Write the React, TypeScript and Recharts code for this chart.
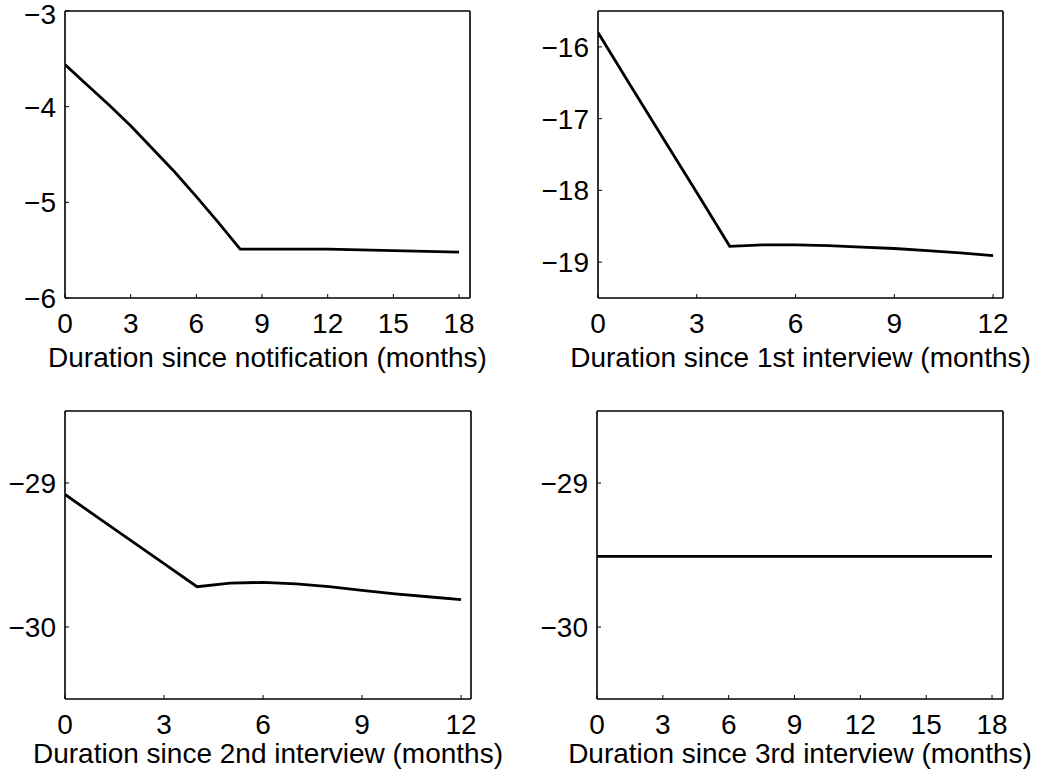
import { LineChart, Line, XAxis, YAxis } from "recharts";

// months since each event
const notifMonths = [0, 1, 2, 3, 4, 5, 6, 7, 8, 9, 10, 11, 12, 13, 14, 15, 16, 17, 18];
const notifEffect = [-3.56, -3.77, -3.98, -4.2, -4.44, -4.68, -4.94, -5.21, -5.49, -5.49, -5.49, -5.49, -5.49, -5.495, -5.5, -5.505, -5.51, -5.515, -5.52];

const firstMonths = [0, 1, 2, 3, 4, 5, 6, 7, 8, 9, 10, 11, 12];
const firstEffect = [-15.8, -16.55, -17.29, -18.03, -18.78, -18.76, -18.76, -18.77, -18.79, -18.81, -18.84, -18.87, -18.91];

const secondMonths = [0, 1, 2, 3, 4, 5, 6, 7, 8, 9, 10, 11, 12];
const secondEffect = [-29.08, -29.24, -29.4, -29.56, -29.72, -29.695, -29.69, -29.7, -29.72, -29.745, -29.77, -29.79, -29.81];

const thirdMonths = [0, 1, 2, 3, 4, 5, 6, 7, 8, 9, 10, 11, 12, 13, 14, 15, 16, 17, 18];
const thirdEffect = [-29.51, -29.51, -29.51, -29.51, -29.51, -29.51, -29.51, -29.51, -29.51, -29.51, -29.51, -29.51, -29.51, -29.51, -29.51, -29.51, -29.51, -29.51, -29.51];

const ticks18 = [0, 3, 6, 9, 12, 15, 18];
const ticks12 = [0, 3, 6, 9, 12];

const FONT = "'Liberation Sans', Arial, Helvetica, sans-serif";
const FS = 28;

// y tick label, kept inside the page at the very top like matlab does
function YTick(props: any) {
  const { x, y, payload } = props;
  const cy = Math.max(y, 14);
  return (
    <text
      x={x}
      y={cy}
      dy="0.355em"
      textAnchor="end"
      fill="#000"
      fontSize={FS}
      fontFamily={FONT}
    >
      {String(payload.value).replace("-", "\u2212")}
    </text>
  );
}

type PanelProps = {
  left: number;
  top: number;
  width: number;
  height: number;
  margin: { top: number; right: number; left: number; bottom: number };
  yWidth: number;
  xHeight: number;
  titleOffset: number;
  months: number[];
  effect: number[];
  xMax: number;
  xTicks: number[];
  yDomain: [number, number];
  yTicks: number[];
  title: string;
};

function Panel(p: PanelProps) {
  const data = p.months.map((m, i) => ({ m, v: p.effect[i] }));
  const tickStyle = { fill: "#000", fontSize: FS, fontFamily: FONT };
  const axisLine = { stroke: "#000", strokeWidth: 1.6 };
  const tickLine = { stroke: "#000", strokeWidth: 1 };
  return (
    <div style={{ position: "absolute", left: p.left, top: p.top }}>
      <LineChart width={p.width} height={p.height} data={data} margin={p.margin}>
        <XAxis
          dataKey="m"
          type="number"
          domain={[0, p.xMax]}
          ticks={p.xTicks}
          height={p.xHeight}
          tickSize={-4}
          tickMargin={19}
          tick={tickStyle}
          axisLine={axisLine}
          tickLine={tickLine}
          interval={0}
          allowDataOverflow
          label={{
            value: p.title,
            position: "insideBottom",
            offset: p.titleOffset,
            style: { fill: "#000", fontSize: FS, fontFamily: FONT },
          }}
        />
        <XAxis
          xAxisId="top"
          dataKey="m"
          type="number"
          orientation="top"
          domain={[0, p.xMax]}
          ticks={p.xTicks}
          height={1}
          tickSize={-4}
          tick={false}
          axisLine={axisLine}
          tickLine={tickLine}
          interval={0}
          allowDataOverflow
        />
        <YAxis
          type="number"
          domain={p.yDomain}
          ticks={p.yTicks}
          width={p.yWidth}
          tickSize={-4}
          tickMargin={13}
          tick={<YTick />}
          axisLine={axisLine}
          tickLine={tickLine}
          interval={0}
          allowDataOverflow
        />
        <YAxis
          yAxisId="right"
          type="number"
          orientation="right"
          domain={p.yDomain}
          ticks={p.yTicks}
          width={1}
          tickSize={-4}
          tick={false}
          axisLine={axisLine}
          tickLine={tickLine}
          interval={0}
          allowDataOverflow
        />
        <Line
          xAxisId="top"
          yAxisId="right"
          dataKey="v"
          stroke="none"
          dot={false}
          legendType="none"
          isAnimationActive={false}
        />
        <Line
          dataKey="v"
          stroke="#000"
          strokeWidth={2.8}
          dot={false}
          isAnimationActive={false}
        />
      </LineChart>
    </div>
  );
}

export default function App() {
  return (
    <div
      style={{
        position: "absolute",
        left: 0,
        top: 0,
        width: 1043,
        height: 778,
        background: "#fff",
      }}
    >
      <Panel
        left={0}
        top={0}
        width={520}
        height={390}
        margin={{ top: 10, right: 49, left: 0, bottom: 0 }}
        yWidth={65}
        xHeight={92}
        titleOffset={23}
        months={notifMonths}
        effect={notifEffect}
        xMax={18.5}
        xTicks={ticks18}
        yDomain={[-6, -3]}
        yTicks={[-6, -5, -4, -3]}
        title="Duration since notification (months)"
      />
      <Panel
        left={520}
        top={0}
        width={523}
        height={390}
        margin={{ top: 10, right: 39, left: 0, bottom: 0 }}
        yWidth={78}
        xHeight={92}
        titleOffset={23}
        months={firstMonths}
        effect={firstEffect}
        xMax={12.3}
        xTicks={ticks12}
        yDomain={[-19.5, -15.5]}
        yTicks={[-19, -18, -17, -16]}
        title="Duration since 1st interview (months)"
      />
      <Panel
        left={0}
        top={390}
        width={520}
        height={388}
        margin={{ top: 20, right: 48, left: 0, bottom: 0 }}
        yWidth={65}
        xHeight={79}
        titleOffset={15}
        months={secondMonths}
        effect={secondEffect}
        xMax={12.3}
        xTicks={ticks12}
        yDomain={[-30.5, -28.5]}
        yTicks={[-30, -29]}
        title="Duration since 2nd interview (months)"
      />
      <Panel
        left={520}
        top={390}
        width={523}
        height={388}
        margin={{ top: 20, right: 39, left: 0, bottom: 0 }}
        yWidth={77}
        xHeight={79}
        titleOffset={15}
        months={thirdMonths}
        effect={thirdEffect}
        xMax={18.5}
        xTicks={ticks18}
        yDomain={[-30.5, -28.5]}
        yTicks={[-30, -29]}
        title="Duration since 3rd interview (months)"
      />
    </div>
  );
}
